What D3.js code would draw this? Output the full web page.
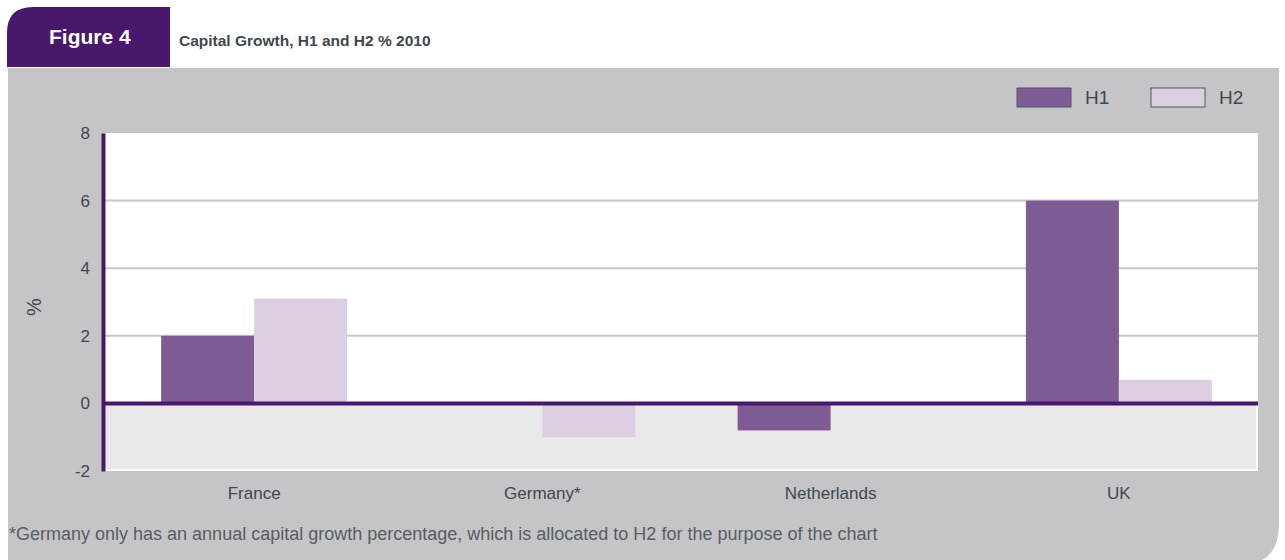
<!DOCTYPE html>
<html lang="en">
<head>
    <meta charset="UTF-8">
    <title>Capital Growth, H1 and H2 % 2010</title>
    <script type="text/javascript" src="https://cdn.jsdelivr.net/npm/d3@7/dist/d3.min.js"></script>
    <style>
        body { margin: 0; background: #fff; }
        text { font-family: "Liberation Sans", Arial, sans-serif; }
        .axis text { fill: #3d4750; font-size: 17px; }
    </style>
</head>
<body>
<script type="text/javascript">
    let width = 1285;
    let height = 560;

    // data
    let categories = ['France', 'Germany*', 'Netherlands', 'UK'];
    let series = ['H1', 'H2'];
    let h1Values = [2.0, null, -0.8, 6.0];
    let h2Values = [3.1, -1.0, null, 0.7];
    let yTicks = [-2, 0, 2, 4, 6, 8];
    let colors = ['#7f5b96', '#dccfe2'];

    let svg = d3.select('body')
        .append('svg')
        .attr('width', width)
        .attr('height', height);

    // grey panel with rounded bottom right corner
    let pr = 42;
    svg.append('path')
        .attr('d', 'M8,68 L1279,68 L1279,' + (566 - pr) + ' Q1279,566 ' + (1279 - pr) + ',566 L8,566 Z')
        .attr('fill', '#c5c5c7');

    // purple tab
    let tr = 26;
    svg.append('path')
        .attr('d', 'M7,67 L7,' + (7 + tr) + ' Q7,7 ' + (7 + tr) + ',7 L170,7 L170,67 Z')
        .attr('fill', '#48186a');
    svg.append('text')
        .attr('x', 49).attr('y', 44)
        .attr('fill', '#fff')
        .style('font-size', '21px').style('font-weight', 'bold')
        .text('Figure 4');
    svg.append('text')
        .attr('x', 179).attr('y', 46)
        .attr('fill', '#3d4750')
        .style('font-size', '15.5px').style('font-weight', 'bold')
        .text('Capital Growth, H1 and H2 % 2010');

    // scales
    let plotLeft = 105, plotRight = 1258;
    let y = d3.scaleLinear().domain([-2, 8]).range([471, 133]);
    let x0 = d3.scaleBand().domain(categories).range([110, 1263]);
    let x1 = d3.scaleBand().domain(series).range([0, x0.bandwidth()]).paddingOuter(0.55);

    // plot background: white above zero, light grey below
    svg.append('rect')
        .attr('x', plotLeft).attr('y', y(8))
        .attr('width', plotRight - plotLeft).attr('height', y(-2) - y(8))
        .attr('fill', '#fff');
    svg.append('rect')
        .attr('x', plotLeft).attr('y', y(0))
        .attr('width', plotRight - plotLeft - 2).attr('height', y(-2) - y(0) - 2)
        .attr('fill', '#e9e9e9');

    // gridlines
    svg.append('g')
        .selectAll('line')
        .data(yTicks.filter(d => d > 0 && d < 8))
        .enter()
        .append('line')
        .attr('x1', plotLeft).attr('x2', plotRight)
        .attr('y1', d => y(d)).attr('y2', d => y(d))
        .attr('stroke', '#c8c8c8')
        .attr('stroke-width', 2);

    // bars
    let rows = categories.map((c, i) => ({ cat: c, values: [h1Values[i], h2Values[i]] }));
    svg.append('g')
        .selectAll('g')
        .data(rows)
        .enter()
        .append('g')
        .attr('transform', d => 'translate(' + x0(d.cat) + ',0)')
        .selectAll('rect')
        .data(d => d.values.map((v, j) => ({ s: series[j], v: v, c: colors[j] })).filter(d => d.v !== null))
        .enter()
        .append('rect')
        .attr('x', d => x1(d.s))
        .attr('width', x1.bandwidth())
        .attr('y', d => y(Math.max(0, d.v)))
        .attr('height', d => Math.abs(y(d.v) - y(0)))
        .attr('fill', d => d.c);

    // zero line
    svg.append('line')
        .attr('x1', plotLeft).attr('x2', plotRight)
        .attr('y1', y(0)).attr('y2', y(0))
        .attr('stroke', '#48186a')
        .attr('stroke-width', 4);

    // y axis
    let yAxis = d3.axisLeft(y).tickValues(yTicks).tickSize(0).tickPadding(13)
        .tickFormat(d => String(d));
    let gy = svg.append('g')
        .attr('class', 'axis')
        .attr('transform', 'translate(103,0)')
        .call(yAxis);
    gy.select('.domain')
        .attr('stroke', '#48186a')
        .attr('stroke-width', 4);

    // x axis labels
    let xAxis = d3.axisBottom(x0).tickSize(0).tickPadding(16);
    let gx = svg.append('g')
        .attr('class', 'axis')
        .attr('transform', 'translate(0,' + y(-2) + ')')
        .call(xAxis);
    gx.select('.domain').remove();
    gx.selectAll('text').attr('fill', '#1d1d1d');

    // y title
    svg.append('text')
        .attr('transform', 'translate(41,307) rotate(-90)')
        .attr('text-anchor', 'middle')
        .attr('fill', '#3d4750')
        .style('font-size', '20px')
        .text('%');

    // legend
    let legend = svg.append('g')
        .selectAll('g')
        .data(series)
        .enter()
        .append('g')
        .attr('transform', (d, i) => 'translate(' + (1017 + i * 134) + ',88)');
    legend.append('rect')
        .attr('width', 54).attr('height', 19)
        .attr('fill', (d, i) => colors[i])
        .attr('stroke', '#4f5961')
        .attr('stroke-width', 1);
    legend.append('text')
        .attr('x', 68).attr('y', 16)
        .attr('fill', '#3d4750')
        .style('font-size', '19px')
        .text(d => d);

    // footnote
    svg.append('text')
        .attr('x', 9).attr('y', 540)
        .attr('fill', '#555d65')
        .style('font-size', '18px')
        .text('*Germany only has an annual capital growth percentage, which is allocated to H2 for the purpose of the chart');
</script>
</body>
</html>
